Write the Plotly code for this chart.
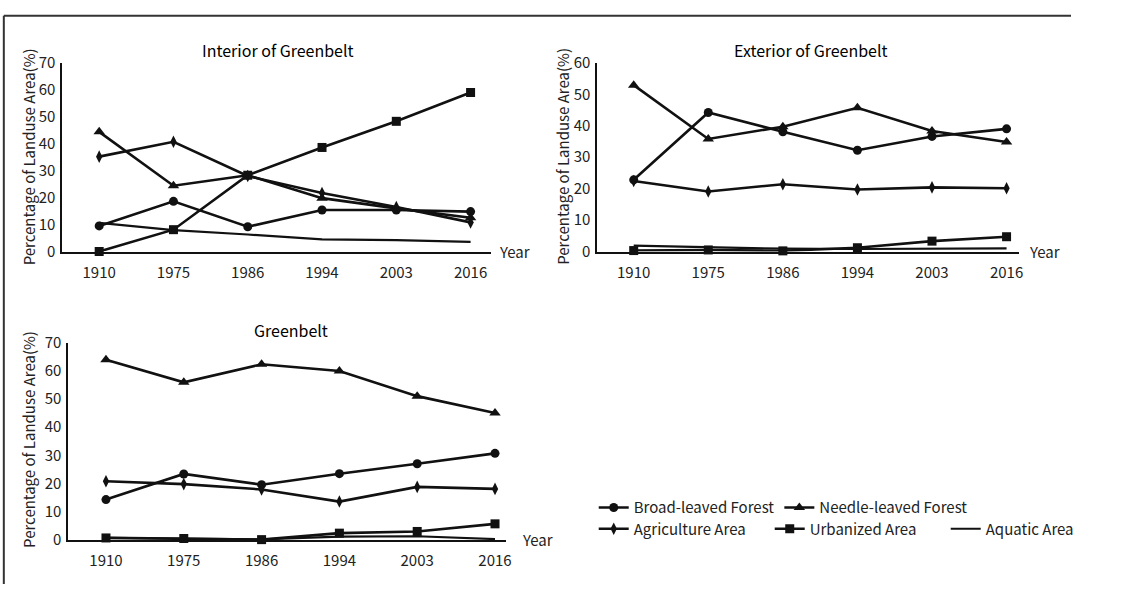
import plotly.graph_objects as go

W, H = 1122, 593

years = ["1910", "1975", "1986", "1994", "2003", "2016"]
series_names = ["Broad-leaved Forest", "Needle-leaved Forest", "Agriculture Area",
                "Urbanized Area", "Aquatic Area"]

# Interior of Greenbelt
broad_int = [9.5, 18.6, 9.2, 15.4, 15.4, 14.8]
needle_int = [44.4, 24.4, 28.3, 19.8, 16.0, 12.5]
agri_int = [35.2, 40.7, 28.0, 21.7, 16.5, 10.8]
urban_int = [0.0, 8.1, 28.3, 38.6, 48.3, 59.0]
aquatic_int = [10.6, 7.9, 6.3, 4.5, 4.2, 3.6]

# Exterior of Greenbelt
broad_ext = [22.8, 44.2, 38.1, 32.2, 36.6, 39.0]
needle_ext = [52.9, 35.8, 39.7, 45.7, 38.3, 34.8]
agri_ext = [22.4, 19.1, 21.4, 19.7, 20.4, 20.1]
urban_ext = [0.3, 0.5, 0.2, 1.2, 3.3, 4.7]
aquatic_ext = [1.9, 1.5, 0.9, 0.8, 1.0, 1.0]

# Greenbelt
broad_gb = [14.3, 23.4, 19.6, 23.5, 27.0, 30.7]
needle_gb = [63.9, 55.9, 62.3, 59.9, 51.0, 45.0]
agri_gb = [20.8, 19.8, 17.9, 13.6, 18.8, 18.1]
urban_gb = [0.7, 0.5, 0.1, 2.4, 3.0, 5.7]
aquatic_gb = [0.8, 0.5, 0.2, 1.2, 1.3, 0.3]

panel_titles = ["Interior of Greenbelt", "Exterior of Greenbelt", "Greenbelt"]
y_title = "Percentage of Landuse Area(%)"
x_label = "Year"
y_max = [70, 60, 70]
y_dtick = 10

panels = [
    [broad_int, needle_int, agri_int, urban_int, aquatic_int],
    [broad_ext, needle_ext, agri_ext, urban_ext, aquatic_ext],
    [broad_gb, needle_gb, agri_gb, urban_gb, aquatic_gb],
]

FONT = "Noto Sans CJK KR"
INK = "#111111"
TXT = "#222222"

symbols = ["circle", "triangle-up", "diamond-tall", "square", None]
msizes = [9, 10, 9, 9, 0]

# layout geometry in pixels: (axis-left, axis-right end, top, bottom, x range lo, x range hi)
geo = [
    (65.0, 514.0, 52.7, 248.3, -0.50, 5.27),
    (625.6, 1067.0, 52.7, 248.3, -0.49, 5.16),
    (71.4, 530.0, 342.7, 547.3, -0.486, 5.14),
]
title_pos = [(291, 39), (850, 39), (305, 330)]
ytitle_pos = [(30, 150), (590, 150), (30, 443)]
year_pos = [(521, 248.3), (1076, 248.3), (545, 547.3)]

fig = go.Figure()
xidx = list(range(len(years)))

for p, data in enumerate(panels):
    ax = "" if p == 0 else str(p + 1)
    for s, vals in enumerate(data):
        sym = symbols[s]
        legend = "legend" if s < 2 else "legend2"
        fig.add_trace(go.Scatter(
            x=xidx, y=vals, name=series_names[s],
            mode="lines+markers" if sym else "lines",
            line=dict(color=INK, width=2.6 if sym else 2.2),
            marker=dict(symbol=sym, size=msizes[s], color=INK) if sym else None,
            xaxis="x" + ax, yaxis="y" + ax,
            showlegend=(p == 0), legend=legend,
            cliponaxis=False, hoverinfo="skip",
        ))

annotations = []
for p in range(3):
    x0, x1, top, bot, lo, hi = geo[p]
    xa = dict(
        domain=[x0 / W, x1 / W], range=[lo, hi],
        tickmode="array", tickvals=xidx, ticktext=years,
        showline=True, linecolor=INK, linewidth=2, showgrid=False, zeroline=False,
        ticks="", ticklabelstandoff=6,
        tickfont=dict(family=FONT, size=15, color=TXT),
        anchor="y" if p == 0 else "y" + str(p + 1), fixedrange=True,
    )
    ya = dict(
        domain=[1 - bot / H, 1 - top / H], range=[0, y_max[p]], dtick=y_dtick,
        showline=True, linecolor=INK, linewidth=1.5, showgrid=False, zeroline=False,
        ticks="", ticklabelstandoff=2,
        tickfont=dict(family=FONT, size=15, color=TXT),
        anchor="x" if p == 0 else "x" + str(p + 1), fixedrange=True,
    )
    key = "" if p == 0 else str(p + 1)
    fig.update_layout(**{"xaxis" + key: xa, "yaxis" + key: ya})

    tx, ty = title_pos[p]
    annotations.append(dict(text=panel_titles[p], x=tx / W, y=1 - ty / H, xref="paper", yref="paper",
                            showarrow=False, xanchor="center", yanchor="middle",
                            font=dict(family=FONT, size=16, color="#000000")))
    yx, yy = ytitle_pos[p]
    annotations.append(dict(text=y_title, x=yx / W, y=1 - yy / H, xref="paper", yref="paper",
                            showarrow=False, textangle=-90, xanchor="center", yanchor="middle",
                            font=dict(family=FONT, size=15, color=TXT)))
    ex, ey = year_pos[p]
    annotations.append(dict(text=x_label, x=ex / W, y=1 - ey / H, xref="paper", yref="paper",
                            showarrow=False, xanchor="left", yanchor="middle",
                            font=dict(family=FONT, size=15, color=TXT)))

leg_common = dict(orientation="h", xanchor="left", yanchor="middle",
                  font=dict(family=FONT, size=15, color=TXT),
                  bgcolor="rgba(0,0,0,0)", itemwidth=30, tracegroupgap=0)

fig.update_layout(
    autosize=True, margin=dict(l=0, r=0, t=0, b=0),
    paper_bgcolor="white", plot_bgcolor="white",
    annotations=annotations, hovermode=False,
    legend=dict(x=622 / W, y=1 - 514 / H, **leg_common),
    legend2=dict(x=622 / W, y=1 - 536 / H, entrywidth=131, entrywidthmode="pixels", **leg_common),
    shapes=[
        dict(type="line", xref="paper", yref="paper", x0=4 / W, x1=1, y0=1 - 4 / H, y1=1 - 4 / H,
             line=dict(color="#333333", width=2)),
        dict(type="line", xref="paper", yref="paper", x0=4 / W, x1=4 / W, y0=0, y1=1 - 4 / H,
             line=dict(color="#333333", width=2)),
    ],
)

fig.write_html(
    "out.html",
    config={"displayModeBar": False, "responsive": True},
    default_width="100vw", default_height="100vh",
    post_script="document.body.style.margin='0';document.body.style.overflow='hidden';",
)
